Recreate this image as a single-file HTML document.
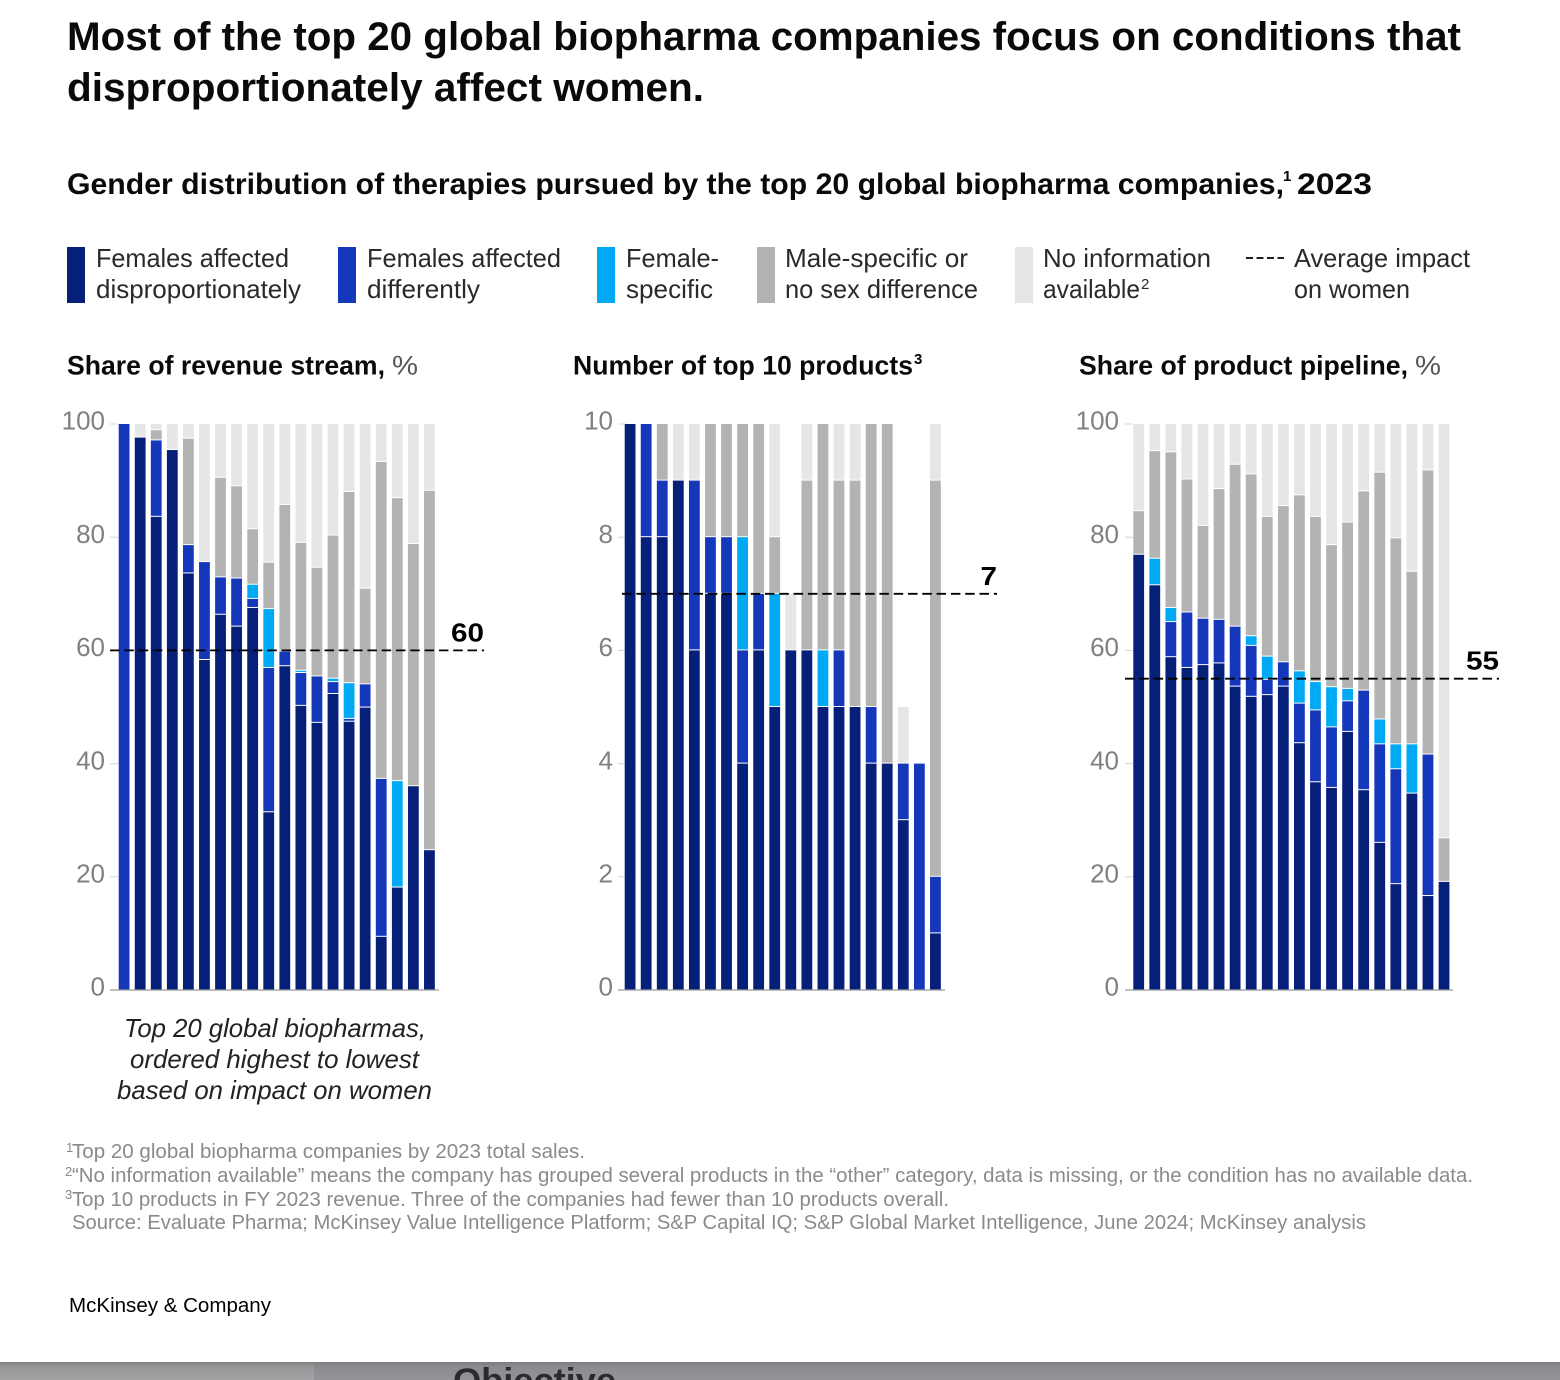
<!DOCTYPE html>
<html lang="en">
<head>
<meta charset="utf-8">
<title>Gender distribution of therapies</title>
<style>
html,body{margin:0;padding:0;background:#fff;}
body{width:1560px;height:1380px;overflow:hidden;}
svg{display:block;font-family:"Liberation Sans",sans-serif;}
.title{font-size:40px;font-weight:700;fill:#0a0a0a;}
.sub{font-size:30px;font-weight:700;fill:#0a0a0a;}
.leg{font-size:26px;fill:#2a2a2a;}
.ct{font-size:27px;font-weight:700;fill:#0a0a0a;}
.ctr{font-size:27px;fill:#555;}
.cap{font-size:26px;font-style:italic;fill:#222;}
.fn{font-size:20px;fill:#8a8a8a;}
.sup{font-size:15px;}
.tick{font-size:26px;fill:#808080;text-anchor:end;}
.avg{font-size:26px;font-weight:700;fill:#000;text-anchor:end;}
</style>
</head>
<body>
<svg id="page" width="1560" height="1380" viewBox="0 0 1560 1380" xmlns="http://www.w3.org/2000/svg">
  <defs>
    <linearGradient id="bandGrad" x1="0" y1="0" x2="0" y2="1"><stop offset="0" stop-color="#808184"/><stop offset="0.3" stop-color="#97989a"/><stop offset="1" stop-color="#a2a3a5"/></linearGradient>
    <linearGradient id="bandGrad2" x1="0" y1="0" x2="0" y2="1"><stop offset="0" stop-color="#7c7d80"/><stop offset="0.3" stop-color="#8b8c8f"/><stop offset="1" stop-color="#939497"/></linearGradient>
    <clipPath id="bandClip"><rect x="0" y="1362" width="1560" height="18"/></clipPath>
  </defs>

  <text class="title" x="67" y="50" textLength="1394" lengthAdjust="spacingAndGlyphs">Most of the top 20 global biopharma companies focus on conditions that</text>
  <text class="title" x="67" y="101" textLength="637" lengthAdjust="spacingAndGlyphs">disproportionately affect women.</text>

  <text class="sub" x="67" y="194" textLength="1217" lengthAdjust="spacingAndGlyphs">Gender distribution of therapies pursued by the top 20 global biopharma companies,</text>
  <text class="sup" x="1283" y="181" font-weight="700">1</text>
  <text class="sub" x="1297" y="194" textLength="75" lengthAdjust="spacingAndGlyphs">2023</text>

  <g>
    <rect x="67" y="247" width="18" height="56" fill="#061f79"/>
    <text class="leg" x="96" y="267" textLength="193" lengthAdjust="spacingAndGlyphs">Females affected</text>
    <text class="leg" x="96" y="298" textLength="205" lengthAdjust="spacingAndGlyphs">disproportionately</text>

    <rect x="338" y="247" width="18" height="56" fill="#1537ba"/>
    <text class="leg" x="367" y="267" textLength="194" lengthAdjust="spacingAndGlyphs">Females affected</text>
    <text class="leg" x="367" y="298" textLength="113" lengthAdjust="spacingAndGlyphs">differently</text>

    <rect x="597" y="247" width="18" height="56" fill="#00a9f4"/>
    <text class="leg" x="626" y="267" textLength="93" lengthAdjust="spacingAndGlyphs">Female-</text>
    <text class="leg" x="626" y="298" textLength="87" lengthAdjust="spacingAndGlyphs">specific</text>

    <rect x="757" y="247" width="18" height="56" fill="#b3b3b3"/>
    <text class="leg" x="785" y="267" textLength="183" lengthAdjust="spacingAndGlyphs">Male-specific or</text>
    <text class="leg" x="785" y="298" textLength="193" lengthAdjust="spacingAndGlyphs">no sex difference</text>

    <rect x="1015" y="247" width="18" height="56" fill="#e6e6e6"/>
    <text class="leg" x="1043" y="267" textLength="168" lengthAdjust="spacingAndGlyphs">No information</text>
    <text class="leg" x="1043" y="298" textLength="97" lengthAdjust="spacingAndGlyphs">available</text>
    <text class="sup" x="1141" y="289" fill="#2a2a2a">2</text>

    <line x1="1246" y1="258" x2="1284" y2="258" stroke="#000" stroke-width="1.7" stroke-dasharray="7 3.5"/>
    <text class="leg" x="1294" y="267" textLength="176" lengthAdjust="spacingAndGlyphs">Average impact</text>
    <text class="leg" x="1294" y="298" textLength="116" lengthAdjust="spacingAndGlyphs">on women</text>
  </g>

  <text class="ct" x="67" y="374.5" textLength="318" lengthAdjust="spacingAndGlyphs">Share of revenue stream,</text>
  <text class="ctr" x="392" y="374.5" textLength="26" lengthAdjust="spacingAndGlyphs">%</text>
  <text class="ct" x="573" y="374.5" textLength="340" lengthAdjust="spacingAndGlyphs">Number of top 10 products</text>
  <text class="sup" x="914" y="364" font-weight="700">3</text>
  <text class="ct" x="1079" y="374.5" textLength="329" lengthAdjust="spacingAndGlyphs">Share of product pipeline,</text>
  <text class="ctr" x="1415" y="374.5" textLength="26" lengthAdjust="spacingAndGlyphs">%</text>

  <g id="charts"></g>

  <text class="cap" x="124" y="1037" textLength="302" lengthAdjust="spacingAndGlyphs">Top 20 global biopharmas,</text>
  <text class="cap" x="130" y="1068" textLength="289" lengthAdjust="spacingAndGlyphs">ordered highest to lowest</text>
  <text class="cap" x="117" y="1099" textLength="315" lengthAdjust="spacingAndGlyphs">based on impact on women</text>

  <g>
    <text class="fn sup" x="66" y="1152" style="font-size:13px">1</text>
    <text class="fn" x="72" y="1158" textLength="513" lengthAdjust="spacingAndGlyphs">Top 20 global biopharma companies by 2023 total sales.</text>
    <text class="fn sup" x="65" y="1176" style="font-size:13px">2</text>
    <text class="fn" x="72" y="1182" textLength="1401" lengthAdjust="spacingAndGlyphs">“No information available” means the company has grouped several products in the “other” category, data is missing, or the condition has no available data.</text>
    <text class="fn sup" x="65" y="1199" style="font-size:13px">3</text>
    <text class="fn" x="72" y="1206" textLength="877" lengthAdjust="spacingAndGlyphs">Top 10 products in FY 2023 revenue. Three of the companies had fewer than 10 products overall.</text>
    <text class="fn" x="72" y="1229" textLength="1294" lengthAdjust="spacingAndGlyphs">Source: Evaluate Pharma; McKinsey Value Intelligence Platform; S&amp;P Capital IQ; S&amp;P Global Market Intelligence, June 2024; McKinsey analysis</text>
  </g>

  <text x="69" y="1312" font-size="20" fill="#000" textLength="202" lengthAdjust="spacingAndGlyphs">McKinsey &amp; Company</text>

  <g clip-path="url(#bandClip)">
    <rect x="0" y="1362" width="314" height="18" fill="url(#bandGrad)"/>
    <rect x="314" y="1362" width="1246" height="18" fill="url(#bandGrad2)"/>
    <text x="453" y="1392" font-size="34" font-weight="700" fill="#2b2b2d" textLength="163" lengthAdjust="spacingAndGlyphs">Objective</text>
  </g>
</svg>

<script>
// Panel 1: share of revenue stream, %
const revenueTicks = [0, 20, 40, 60, 80, 100];
const revenueAverage = 60;
const revenueDisproportionate = [0,97.6,83.6,95.4,73.6,58.3,66.3,64.2,67.5,31.4,57.2,50.2,47.2,52.3,47.4,49.9,9.4,18.1,36,24.7];
const revenueDifferently = [100,0,13.5,0,5,17.3,6.6,8.5,1.6,25.5,2.6,5.8,8.2,2.1,0.5,4.1,27.9,0,0,0];
const revenueFemaleSpecific = [0,0,0,0,0,0,0,0,2.5,10.4,0,0.4,0,0.6,6.3,0,0,18.8,0,0];
const revenueMaleOrNoDiff = [0,0,1.8,0,18.8,0,17.6,16.3,9.8,8.2,25.9,22.6,19.2,25.3,33.8,16.9,56,50,42.8,63.5];
const revenueNoInfo = [0,2.4,1.1,4.6,2.6,24.4,9.5,11,18.6,24.5,14.3,21,25.4,19.7,12,29.1,6.7,13.1,21.2,11.8];

// Panel 2: number of top 10 products
const productTicks = [0, 2, 4, 6, 8, 10];
const productAverage = 7;
const productDisproportionate = [10,8,8,9,6,7,7,4,6,5,6,6,5,5,5,4,4,3,0,1];
const productDifferently = [0,2,1,0,3,1,1,2,1,0,0,0,0,1,0,1,0,1,4,1];
const productFemaleSpecific = [0,0,0,0,0,0,0,2,0,2,0,0,1,0,0,0,0,0,0,0];
const productMaleOrNoDiff = [0,0,1,0,0,2,2,2,3,1,0,3,4,3,4,5,6,0,0,7];
const productNoInfo = [0,0,0,1,1,0,0,0,0,2,1,1,0,1,1,0,0,1,0,1];

// Panel 3: share of product pipeline, %
const pipelineTicks = [0, 20, 40, 60, 80, 100];
const pipelineAverage = 55;
const pipelineDisproportionate = [76.9,71.5,58.8,56.9,57.4,57.7,53.6,51.8,52.1,53.6,43.6,36.7,35.7,45.6,35.3,26,18.7,34.7,16.6,19.1];
const pipelineDifferently = [0,0,6.2,9.8,8.2,7.7,10.6,9,2.7,4.3,7,12.7,10.7,5.4,17.6,17.4,20.3,0,25,0];
const pipelineFemaleSpecific = [0,4.7,2.5,0,0,0,0,1.7,4.1,0,5.7,5,7.1,2.2,0,4.4,4.4,8.7,0,0];
const pipelineMaleOrNoDiff = [7.7,19,27.5,23.5,16.4,23.1,28.6,28.6,24.7,27.6,31.1,29.2,25.1,29.4,35.2,43.6,36.4,30.5,50.2,7.7];
const pipelineNoInfo = [15.4,4.8,5,9.8,18,11.5,7.2,8.9,16.4,14.5,12.6,16.4,21.4,17.4,11.9,8.6,20.2,26.1,8.2,73.2];

const NS = 'http://www.w3.org/2000/svg';
const seriesColors = ['#061f79', '#1537ba', '#00a9f4', '#b3b3b3', '#e6e6e6'];
const seriesKeys = ['disproportionate', 'differently', 'female-specific', 'male-or-no-difference', 'no-information'];
const PLOT_TOP = 424;
const PLOT_BOTTOM = 990;
const BAR_WIDTH = 10.8;
const BAR_STEP = 16.07;

function add(parent, tag, attrs, text) {
  const el = document.createElementNS(NS, tag);
  for (const k in attrs) el.setAttribute(k, attrs[k]);
  if (text !== undefined) el.textContent = text;
  parent.appendChild(el);
  return el;
}

function drawPanel(cfg) {
  const root = document.getElementById('charts');
  const panel = add(root, 'g', {});
  
  
  const yMax = cfg.ticks[cfg.ticks.length - 1];
  const yScale = v => PLOT_BOTTOM - (v / yMax) * (PLOT_BOTTOM - PLOT_TOP);
  const xScale = i => cfg.barStart + i * BAR_STEP;

  cfg.ticks.forEach(t => {
    const y = yScale(t);
    if (t !== 0) {
      const mark = add(panel, 'line', { x1: cfg.axisStart, x2: cfg.axisStart + 8, y1: y, y2: y, stroke: '#d4d4d4', 'stroke-width': 1 });
      
      
    }
    const label = add(panel, 'text', { x: cfg.labelRight, y: y + 5.7, class: 'tick' }, String(t));
    
    
  });

  cfg.series[0].forEach((_, i) => {
    let running = 0;
    cfg.series.forEach((values, s) => {
      const v = values[i];
      if (!v) return;
      const top = yScale(running + v);
      const bottom = yScale(running);
      running += v;
      const gap = running - v > 0 ? 1 : 0;
      const seg = add(panel, 'rect', {
        x: xScale(i),
        y: top,
        width: BAR_WIDTH,
        height: Math.max(bottom - top - gap, 0.5),
        fill: seriesColors[s]
      });
      
      
    });
  });

  const base = add(panel, 'line', { x1: cfg.axisStart, x2: cfg.axisEnd, y1: PLOT_BOTTOM, y2: PLOT_BOTTOM, stroke: '#9a9a9a', 'stroke-width': 1.3 });
  
  

  const ay = yScale(cfg.average);
  const avgLine = add(panel, 'line', { x1: cfg.avgStart, x2: cfg.avgEnd, y1: ay, y2: ay, stroke: '#000', 'stroke-width': 1.8, 'stroke-dasharray': '9.5 4.8' });
  
  
  const avgText = String(cfg.average);
  const avgLabel = add(panel, 'text', { x: cfg.avgEnd, y: ay - 9, class: 'avg', textLength: avgText.length * 16.5, lengthAdjust: 'spacingAndGlyphs' }, avgText);
  
  
}

drawPanel({
  name: 'revenue', ticks: revenueTicks, average: revenueAverage,
  series: [revenueDisproportionate, revenueDifferently, revenueFemaleSpecific, revenueMaleOrNoDiff, revenueNoInfo],
  barStart: 118.7, axisStart: 110, axisEnd: 439, labelRight: 105, avgStart: 110, avgEnd: 484
});
drawPanel({
  name: 'products', ticks: productTicks, average: productAverage,
  series: [productDisproportionate, productDifferently, productFemaleSpecific, productMaleOrNoDiff, productNoInfo],
  barStart: 624.7, axisStart: 618, axisEnd: 945, labelRight: 613, avgStart: 622, avgEnd: 997
});
drawPanel({
  name: 'pipeline', ticks: pipelineTicks, average: pipelineAverage,
  series: [pipelineDisproportionate, pipelineDifferently, pipelineFemaleSpecific, pipelineMaleOrNoDiff, pipelineNoInfo],
  barStart: 1133.3, axisStart: 1125, axisEnd: 1453, labelRight: 1119, avgStart: 1125, avgEnd: 1499
});
</script>
</body>
</html>
